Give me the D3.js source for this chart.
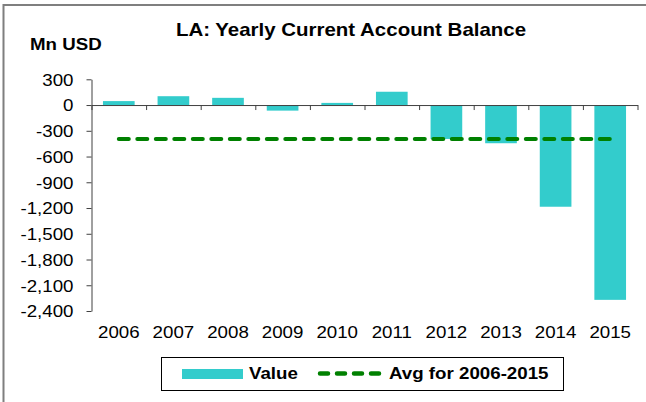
<!DOCTYPE html>
<html lang="en">
<head>
<meta charset="utf-8"/>
<script src="https://d3js.org/d3.v7.min.js"></script>
<style>
  body { margin: 0; background: #FFFFFF; }
  * { font-family: "Liberation Sans", Arial, sans-serif; }
  .tick text { font-size: 16px; fill: #000; }
  #title { font-size: 17.5px; font-weight: bold; }
  #unit { font-size: 16px; font-weight: bold; }
  .legend-text { font-size: 16px; font-weight: bold; }
</style>
</head>
<body>
<svg id="container" width="646" height="402"></svg>
<script>
  // chart data
  let years = ["2006","2007","2008","2009","2010","2011","2012","2013","2014","2015"]
  let values = [46, 103, 84, -65, 25, 155, -395, -445, -1185, -2270]
  let yTicks = [300, 0, -300, -600, -900, -1200, -1500, -1800, -2100, -2400]
  let avgLabel = "Avg for 2006-2015"

  let svg = d3.select("svg")
  let avg = d3.mean(values)
  let sx = 1.17 // the original text is a little wider than Arial
  // plain hyphen for negatives, like the original
  let fmt = d3.formatLocale({decimal: ".", thousands: ",", grouping: [3], currency: ["$", ""], minus: "-"}).format(",")

  // text helper: places text at x,y and widens it a bit
  function addText(parent, x, y, str, anchor) {
    return parent.append("text")
      .attr("transform", "translate(" + x + "," + y + ") scale(" + sx + ",1)")
      .attr("text-anchor", anchor || "start")
      .text(str)
  }

  // outer frame (runs off the right and bottom edge)
  svg.append("rect")
    .attr("x", 3.5).attr("y", 5)
    .attr("width", 700).attr("height", 500)
    .attr("fill", "none").attr("stroke", "#7F7F7F").attr("stroke-width", 2)

  addText(svg, 351, 36, "LA: Yearly Current Account Balance", "middle").attr("id", "title")
  addText(svg, 30, 50, "Mn USD").attr("id", "unit")

  let left = 91.5, right = 637.5
  let yScale = d3.scaleLinear().domain([-2400, 300]).range([311, 79.3])
  let xScale = d3.scaleBand().domain(years).range([left, right])
    .paddingInner(0.42).paddingOuter(0.21)
  let idxScale = d3.scaleLinear().domain([0, years.length]).range([left, right])

  // bars
  svg.selectAll("rect.bar")
    .data(values)
    .enter()
    .append("rect")
    .attr("class", "bar")
    .attr("x", (d, i) => xScale(years[i]))
    .attr("width", xScale.bandwidth())
    .attr("y", d => yScale(Math.max(0, d)))
    .attr("height", d => Math.abs(yScale(d) - yScale(0)))
    .attr("fill", "#33CCCC")

  // y axis
  svg.append("g")
    .attr("id", "y-axis")
    .attr("transform", "translate(" + left + ",0)")
    .call(d3.axisLeft(yScale).tickValues(yTicks).tickFormat(fmt).tickSize(5).tickSizeOuter(0))
    .call(g => g.selectAll("line, path").attr("stroke", "#404040"))
    .call(g => g.selectAll("text")
      .attr("x", null).attr("dy", "0.37em")
      .attr("transform", "translate(-18,0) scale(" + sx + ",1)"))

  // x axis along zero line, ticks between categories
  svg.append("g")
    .attr("id", "x-axis")
    .attr("transform", "translate(0," + yScale(0) + ")")
    .call(d3.axisBottom(idxScale).ticks(years.length).tickFormat("").tickSize(5).tickSizeOuter(0))
    .call(g => g.selectAll("line, path").attr("stroke", "#404040"))

  // category labels below plot
  let xLabels = svg.append("g").attr("class", "tick")
  years.forEach(d => {
    addText(xLabels, xScale(d) + xScale.bandwidth() / 2, 338, d, "middle")
  })

  // average line
  svg.append("line")
    .attr("x1", xScale(years[0]) + xScale.bandwidth() / 2)
    .attr("x2", xScale(years[years.length - 1]) + xScale.bandwidth() / 2)
    .attr("y1", yScale(avg)).attr("y2", yScale(avg))
    .attr("stroke", "#008000").attr("stroke-width", 4)
    .attr("stroke-dasharray", "10,8.5").attr("stroke-linecap", "round")

  // legend
  let legend = svg.append("g").attr("id", "legend")
  legend.append("rect")
    .attr("x", 161.5).attr("y", 357.5).attr("width", 402).attr("height", 33)
    .attr("fill", "#FFFFFF").attr("stroke", "#000").attr("stroke-width", 1)
  legend.append("rect")
    .attr("x", 182).attr("y", 369).attr("width", 61).attr("height", 10)
    .attr("fill", "#33CCCC")
  addText(legend, 249, 378.5, "Value").attr("class", "legend-text")
  legend.append("line")
    .attr("x1", 320).attr("x2", 381).attr("y1", 373.5).attr("y2", 373.5)
    .attr("stroke", "#008000").attr("stroke-width", 4.5)
    .attr("stroke-dasharray", "8,9").attr("stroke-linecap", "round")
  addText(legend, 389, 378.5, avgLabel).attr("class", "legend-text")
</script>
</body>
</html>
